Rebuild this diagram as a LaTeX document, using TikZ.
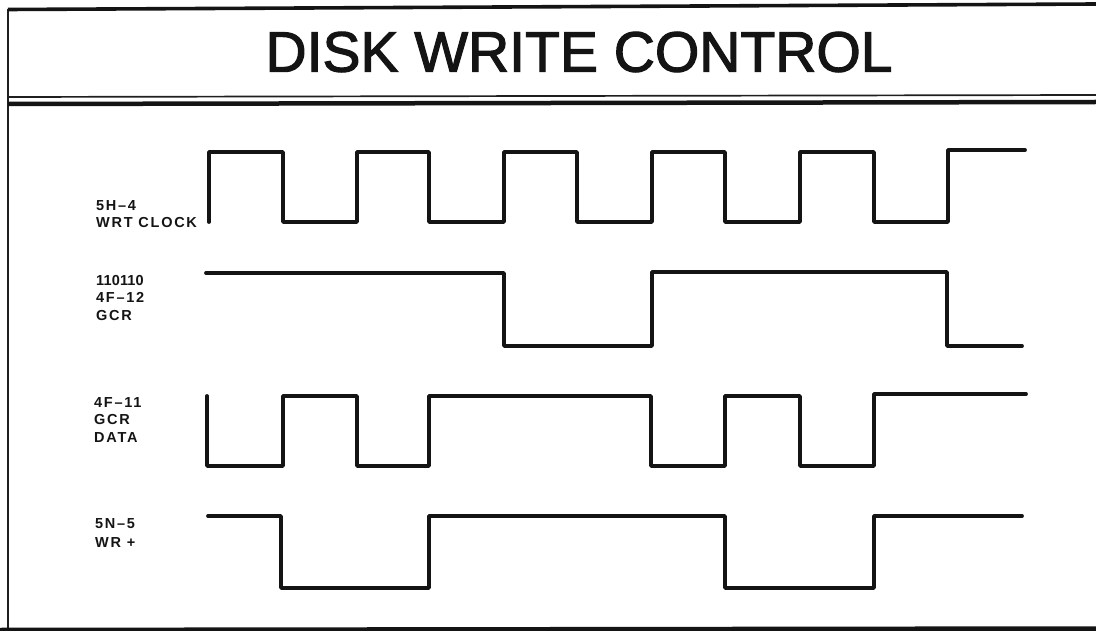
\documentclass[tikz,border=0pt]{standalone}
\usepackage{fontspec}
\setmainfont{Liberation Sans}
\newfontfamily\lblfont[LetterSpace=12]{Liberation Sans Bold}
\newfontfamily\lbltight[LetterSpace=1]{Liberation Sans Bold}
\newfontfamily\titlefont[FakeBold=2]{Liberation Sans}
\tikzset{
  wave/.style={line width=3.8pt,line join=round,line cap=round,black!92},
  framethin/.style={line width=1.7pt,black!88},
  framethick/.style={line width=4.5pt,black!92},
  siglabel/.style={font=\lblfont\fontsize{14.5}{17.5}\selectfont,align=left,anchor=north west,inner sep=0pt,text=black!92},
  titletext/.style={font=\titlefont\fontsize{57}{60}\selectfont,inner sep=0pt,text=black!92}
}
\begin{document}
\begin{tikzpicture}[x=1pt,y=-1pt]
\useasboundingbox (0,0) rectangle (1096,631);
\fill[white] (0,0) rectangle (1096,631);
% frame
\draw[framethin] (8,9) -- (8,628);
\draw[line width=3.6pt,black!92] (8,9.5) -- (1096,4);
\draw[framethin] (8,97) -- (1096,95);
\draw[framethick] (8,104) -- (1096,102);
\draw[framethick] (0,630) -- (1096,628.5);
% title
\node[titletext] (title) at (579,52) {DISK WRITE CONTROL};
% labels
\node[siglabel] (lclock) at (96,200) {5H–4\\WRT CLOCK};
\node[siglabel] (lgcr) at (96,275) {{\lbltight 110110}\\4F–12\\GCR};
\node[siglabel] (ldata) at (94,397) {4F–11\\GCR\\DATA};
\node[siglabel,font=\lblfont\fontsize{14.5}{19.5}\selectfont] (lwr) at (95,518) {5N–5\\WR +};
% waveforms
\draw[wave] (209,222) |- (283,152) |- (357,222) |- (429,152) |- (504,222) |- (577,152) |- (652,222) |- (725,152) |- (800,222) |- (874,152) |- (948,222) |- (1025,150);
\draw[wave] (206,273) -- (504,273) |- (652,346) |- (947,272) |- (1022,346);
\draw[wave] (207,396) |- (283,466) |- (357,396) |- (429,466) |- (651,396) |- (725,466) |- (800,396) |- (874,466) |- (1026,394);
\draw[wave] (208,516) -- (281,516) |- (429,588) |- (725,516) |- (874,588) |- (1022,516);
\end{tikzpicture}
\end{document}
